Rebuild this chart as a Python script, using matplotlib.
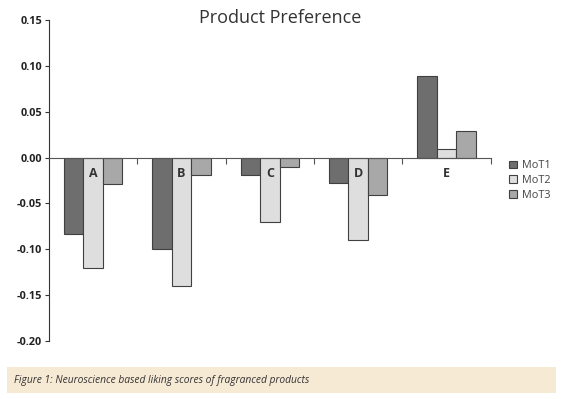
import matplotlib.pyplot as plt
from matplotlib.patches import Rectangle
import numpy as np

categories = ['A', 'B', 'C', 'D', 'E']
series_names = ['MoT1', 'MoT2', 'MoT3']
mot1 = [-0.083, -0.100, -0.019, -0.028, 0.089]
mot2 = [-0.120, -0.140, -0.070, -0.090, 0.009]
mot3 = [-0.029, -0.019, -0.010, -0.041, 0.029]
yticks = [0.15, 0.10, 0.05, 0.00, -0.05, -0.10, -0.15, -0.20]
caption = 'Figure 1: Neuroscience based liking scores of fragranced products'

plt.rcParams['font.family'] = ['Open Sans', 'DejaVu Sans']

fig = plt.figure(figsize=(5.66, 3.99), dpi=100)
ax = fig.add_axes([0.0866, 0.1454, 0.7804, 0.8046])

colors = ['#6e6e6e', '#dedede', '#a8a8a8']
x = np.arange(len(categories))
w = 0.22
for i, (vals, c, name) in enumerate(zip([mot1, mot2, mot3], colors, series_names)):
    ax.bar(x + (i - 1) * w, vals, w, color=c, edgecolor='#404040', linewidth=0.8, label=name)

ax.set_xlim(-0.5, len(categories) - 0.5)
ax.set_ylim(-0.2, 0.15)
ax.set_yticks(yticks)
ax.set_yticklabels(['%.2f' % v for v in yticks], fontsize=7.8, fontweight='bold', color='#222222')
ax.tick_params(axis='y', length=3, width=0.8, color='#333333', pad=2)

ax.spines['top'].set_visible(False)
ax.spines['right'].set_visible(False)
ax.spines['bottom'].set_position(('data', 0))
ax.spines['bottom'].set_color('#555555')
ax.spines['left'].set_color('#333333')
ax.set_xticks(np.arange(len(categories)) + 0.5)
ax.set_xticklabels([])
ax.tick_params(axis='x', length=4, width=0.8, color='#555555', direction='out')

for xi, cat in zip(x, categories):
    ax.text(xi, -0.017, cat, ha='center', va='center', fontsize=9, fontweight='bold', color='#333333')

fig.text(280 / 566, 1 - 18 / 399, 'Product Preference', fontsize=13, color='#333333',
         ha='center', va='center')

ax.legend(loc='center left', bbox_to_anchor=(1.02, 0.5), frameon=False, fontsize=7.8,
          handlelength=0.7, handleheight=0.7, handletextpad=0.5, labelspacing=0.35,
          labelcolor='#444444')

fig.patches.append(Rectangle((7 / 566, 1 - 393 / 399), 549 / 566, 26 / 399,
                             transform=fig.transFigure, facecolor='#f7ead5', edgecolor='none'))
fig.text(14 / 566, 1 - 380 / 399, caption, fontsize=7.4, style='italic', color='#333333', va='center')

fig.savefig('out.png', dpi=100)
